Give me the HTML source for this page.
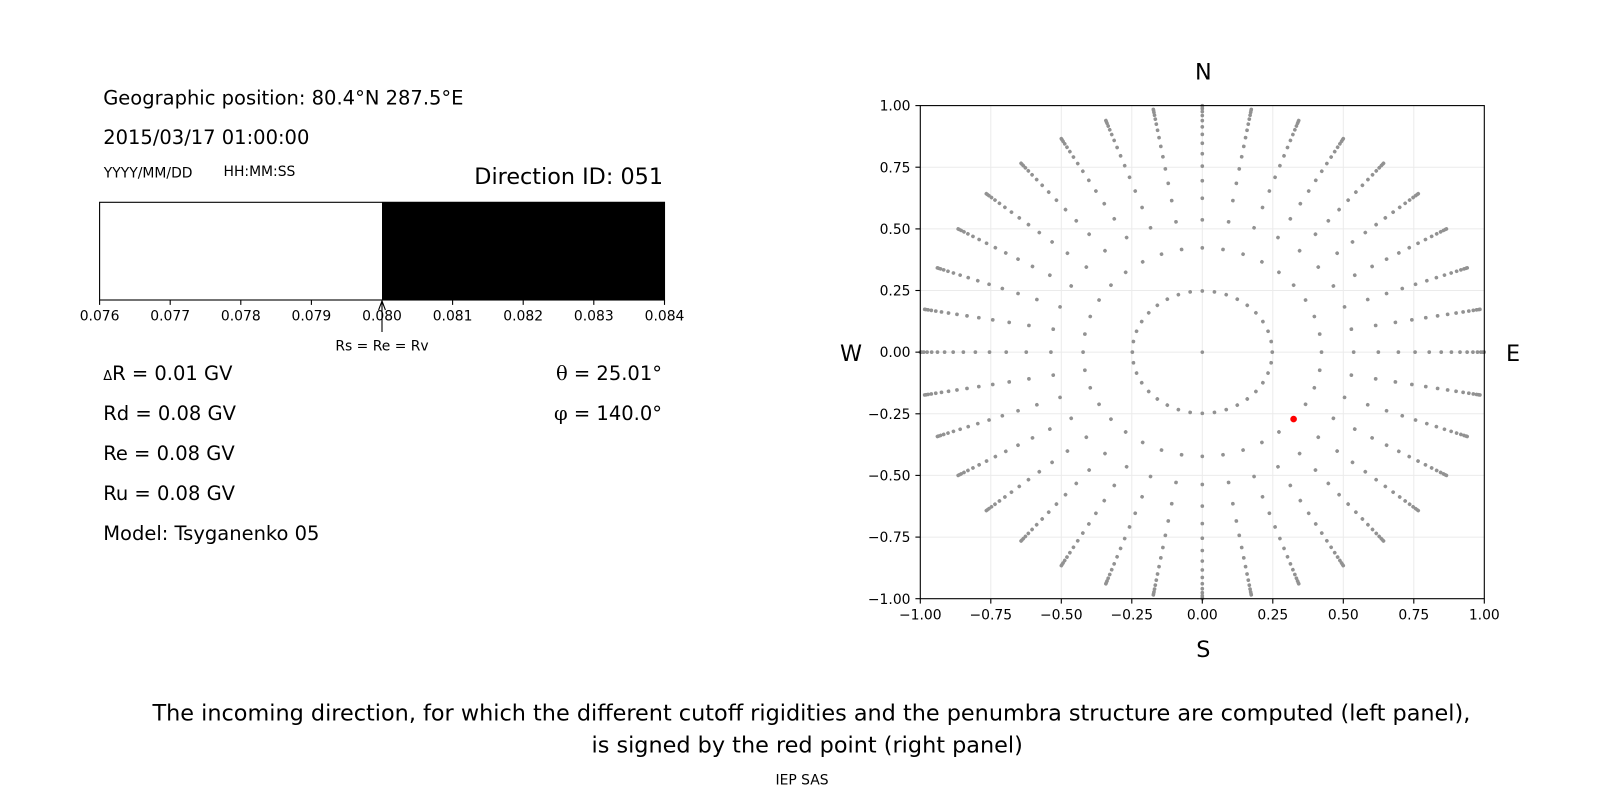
<!DOCTYPE html>
<html>
<head>
<meta charset="utf-8">
<style>
  html,body{margin:0;padding:0;background:#fff;}
  svg{display:block;}
  text{font-family:"DejaVu Sans","Liberation Sans",sans-serif;fill:#000;}
  .serif{font-family:"DejaVu Serif","Liberation Serif",serif;}
</style>
</head>
<body>
<svg width="1600" height="800" viewBox="0 0 1600 800" xmlns="http://www.w3.org/2000/svg">
  <rect x="0" y="0" width="1600" height="800" fill="#fff"/>

  <!-- Left panel texts -->
  <text x="103.2" y="104.3" font-size="19.5">Geographic position: 80.4°N 287.5°E</text>
  <text x="103.2" y="144" font-size="19.5">2015/03/17 01:00:00</text>
  <text x="103.8" y="177.3" font-size="13.9">YYYY/MM/DD</text>
  <text x="223.5" y="176" font-size="13.9">HH:MM:SS</text>
  <text x="663" y="184" font-size="22.3" text-anchor="end">Direction ID: 051</text>

  <!-- Penumbra bar -->
  <rect x="99.6" y="202.3" width="282.4" height="97.7" fill="#fff"/>
  <rect x="382" y="202.3" width="282.5" height="97.7" fill="#000"/>
  <rect x="99.6" y="202.3" width="564.9" height="97.7" fill="none" stroke="#000" stroke-width="1.1"/>
  <g stroke="#000" stroke-width="1.1">
    <line x1="99.6" y1="300" x2="99.6" y2="304.9"/>
    <line x1="170.2" y1="300" x2="170.2" y2="304.9"/>
    <line x1="240.8" y1="300" x2="240.8" y2="304.9"/>
    <line x1="311.4" y1="300" x2="311.4" y2="304.9"/>
    <line x1="382" y1="300" x2="382" y2="304.9"/>
    <line x1="452.6" y1="300" x2="452.6" y2="304.9"/>
    <line x1="523.2" y1="300" x2="523.2" y2="304.9"/>
    <line x1="593.8" y1="300" x2="593.8" y2="304.9"/>
    <line x1="664.5" y1="300" x2="664.5" y2="304.9"/>
  </g>
  <g font-size="13.9" text-anchor="middle">
    <text x="99.6" y="320.5">0.076</text>
    <text x="170.2" y="320.5">0.077</text>
    <text x="240.8" y="320.5">0.078</text>
    <text x="311.4" y="320.5">0.079</text>
    <text x="382" y="320.5">0.080</text>
    <text x="452.6" y="320.5">0.081</text>
    <text x="523.2" y="320.5">0.082</text>
    <text x="593.8" y="320.5">0.083</text>
    <text x="664.5" y="320.5">0.084</text>
  </g>
  <!-- arrow -->
  <g stroke="#000" stroke-width="1.1" fill="none">
    <line x1="382" y1="301" x2="382" y2="332"/>
    <polyline points="378.6,310 382,301 385.4,310"/>
  </g>
  <text x="382" y="350.5" font-size="13.9" text-anchor="middle">Rs = Re = Rv</text>

  <!-- Values -->
  <text x="103.2" y="380" font-size="19.5"><tspan font-size="13">Δ</tspan>R = 0.01 GV</text>
  <text x="103.2" y="420" font-size="19.5">Rd = 0.08 GV</text>
  <text x="103.2" y="460" font-size="19.5">Re = 0.08 GV</text>
  <text x="103.2" y="500" font-size="19.5">Ru = 0.08 GV</text>
  <text x="103.2" y="540" font-size="19.5">Model: Tsyganenko 05</text>
  <text x="662" y="380" font-size="19.5" text-anchor="end"><tspan class="serif">θ</tspan> = 25.01°</text>
  <text x="662" y="420" font-size="19.5" text-anchor="end"><tspan class="serif">φ</tspan> = 140.0°</text>

  <!-- Right panel: grid -->
  <g stroke="#ebebeb" stroke-width="1">
    <line x1="990.8" y1="105.6" x2="990.8" y2="598.7"/>
    <line x1="1061.3" y1="105.6" x2="1061.3" y2="598.7"/>
    <line x1="1131.8" y1="105.6" x2="1131.8" y2="598.7"/>
    <line x1="1202.3" y1="105.6" x2="1202.3" y2="598.7"/>
    <line x1="1272.8" y1="105.6" x2="1272.8" y2="598.7"/>
    <line x1="1343.3" y1="105.6" x2="1343.3" y2="598.7"/>
    <line x1="1413.8" y1="105.6" x2="1413.8" y2="598.7"/>
    <line x1="920.3" y1="167.2" x2="1484.3" y2="167.2"/>
    <line x1="920.3" y1="228.9" x2="1484.3" y2="228.9"/>
    <line x1="920.3" y1="290.5" x2="1484.3" y2="290.5"/>
    <line x1="920.3" y1="352.15" x2="1484.3" y2="352.15"/>
    <line x1="920.3" y1="413.8" x2="1484.3" y2="413.8"/>
    <line x1="920.3" y1="475.4" x2="1484.3" y2="475.4"/>
    <line x1="920.3" y1="537.1" x2="1484.3" y2="537.1"/>
  </g>

  <!-- Points -->
  <defs>
    <path id="ray" d="M0.24804 0h0.0001M0.42274 0h0.0001M0.53674 0h0.0001M0.62422 0h0.0001M0.69527 0h0.0001M0.75454 0h0.0001M0.80465 0h0.0001M0.84722 0h0.0001M0.88333 0h0.0001M0.91376 0h0.0001M0.93906 0h0.0001M0.95964 0h0.0001M0.97578 0h0.0001M0.98772 0h0.0001M0.99560 0h0.0001M0.99951 0h0.0001" fill="none" stroke-linecap="round"/>
  </defs>
  <g stroke="#929292">
    <use href="#ray" transform="matrix(0,-246.55,246.55,0,1202.3,352.15)" stroke-width="0.0149"/>
    <use href="#ray" transform="matrix(48.969,-242.804,242.804,48.969,1202.3,352.15)" stroke-width="0.01486"/>
    <use href="#ray" transform="matrix(96.450,-231.681,231.681,96.450,1202.3,352.15)" stroke-width="0.01466"/>
    <use href="#ray" transform="matrix(141,-213.519,213.519,141,1202.3,352.15)" stroke-width="0.01439"/>
    <use href="#ray" transform="matrix(181.267,-188.870,188.870,181.267,1202.3,352.15)" stroke-width="0.01405"/>
    <use href="#ray" transform="matrix(216.023,-158.479,158.479,216.023,1202.3,352.15)" stroke-width="0.01373"/>
    <use href="#ray" transform="matrix(244.220,-123.275,123.275,244.220,1202.3,352.15)" stroke-width="0.01346"/>
    <use href="#ray" transform="matrix(264.993,-84.325,84.325,264.993,1202.3,352.15)" stroke-width="0.01324"/>
    <use href="#ray" transform="matrix(277.716,-42.813,42.813,277.716,1202.3,352.15)" stroke-width="0.0131"/>
    <use href="#ray" transform="matrix(282,0,0,282,1202.3,352.15)" stroke-width="0.01305"/>
    <use href="#ray" transform="matrix(277.716,42.813,-42.813,277.716,1202.3,352.15)" stroke-width="0.0131"/>
    <use href="#ray" transform="matrix(264.993,84.325,-84.325,264.993,1202.3,352.15)" stroke-width="0.01324"/>
    <use href="#ray" transform="matrix(244.220,123.275,-123.275,244.220,1202.3,352.15)" stroke-width="0.01346"/>
    <use href="#ray" transform="matrix(216.023,158.479,-158.479,216.023,1202.3,352.15)" stroke-width="0.01373"/>
    <use href="#ray" transform="matrix(181.267,188.870,-188.870,181.267,1202.3,352.15)" stroke-width="0.01405"/>
    <use href="#ray" transform="matrix(141,213.519,-213.519,141,1202.3,352.15)" stroke-width="0.01439"/>
    <use href="#ray" transform="matrix(96.450,231.681,-231.681,96.450,1202.3,352.15)" stroke-width="0.01466"/>
    <use href="#ray" transform="matrix(48.969,242.804,-242.804,48.969,1202.3,352.15)" stroke-width="0.01486"/>
    <use href="#ray" transform="matrix(0,246.55,-246.55,0,1202.3,352.15)" stroke-width="0.0149"/>
    <use href="#ray" transform="matrix(-48.969,242.804,-242.804,-48.969,1202.3,352.15)" stroke-width="0.01486"/>
    <use href="#ray" transform="matrix(-96.450,231.681,-231.681,-96.450,1202.3,352.15)" stroke-width="0.01466"/>
    <use href="#ray" transform="matrix(-141,213.519,-213.519,-141,1202.3,352.15)" stroke-width="0.01439"/>
    <use href="#ray" transform="matrix(-181.267,188.870,-188.870,-181.267,1202.3,352.15)" stroke-width="0.01405"/>
    <use href="#ray" transform="matrix(-216.023,158.479,-158.479,-216.023,1202.3,352.15)" stroke-width="0.01373"/>
    <use href="#ray" transform="matrix(-244.220,123.275,-123.275,-244.220,1202.3,352.15)" stroke-width="0.01346"/>
    <use href="#ray" transform="matrix(-264.993,84.325,-84.325,-264.993,1202.3,352.15)" stroke-width="0.01324"/>
    <use href="#ray" transform="matrix(-277.716,42.813,-42.813,-277.716,1202.3,352.15)" stroke-width="0.0131"/>
    <use href="#ray" transform="matrix(-282,0,0,-282,1202.3,352.15)" stroke-width="0.01305"/>
    <use href="#ray" transform="matrix(-277.716,-42.813,42.813,-277.716,1202.3,352.15)" stroke-width="0.0131"/>
    <use href="#ray" transform="matrix(-264.993,-84.325,84.325,-264.993,1202.3,352.15)" stroke-width="0.01324"/>
    <use href="#ray" transform="matrix(-244.220,-123.275,123.275,-244.220,1202.3,352.15)" stroke-width="0.01346"/>
    <use href="#ray" transform="matrix(-216.023,-158.479,158.479,-216.023,1202.3,352.15)" stroke-width="0.01373"/>
    <use href="#ray" transform="matrix(-181.267,-188.870,188.870,-181.267,1202.3,352.15)" stroke-width="0.01405"/>
    <use href="#ray" transform="matrix(-141,-213.519,213.519,-141,1202.3,352.15)" stroke-width="0.01439"/>
    <use href="#ray" transform="matrix(-96.450,-231.681,231.681,-96.450,1202.3,352.15)" stroke-width="0.01466"/>
    <use href="#ray" transform="matrix(-48.969,-242.804,242.804,-48.969,1202.3,352.15)" stroke-width="0.01486"/>
  </g>
  <circle cx="1202.3" cy="352.15" r="1.8" fill="#929292"/>
  <!-- red point -->
  <circle cx="1293.6" cy="419.1" r="3.3" fill="#ff0000"/>

  <!-- Right axes frame -->
  <rect x="920.3" y="105.6" width="564" height="493.1" fill="none" stroke="#000" stroke-width="1.1"/>
  <g stroke="#000" stroke-width="1.1">
    <line x1="920.3" y1="598.7" x2="920.3" y2="603.6"/>
    <line x1="990.8" y1="598.7" x2="990.8" y2="603.6"/>
    <line x1="1061.3" y1="598.7" x2="1061.3" y2="603.6"/>
    <line x1="1131.8" y1="598.7" x2="1131.8" y2="603.6"/>
    <line x1="1202.3" y1="598.7" x2="1202.3" y2="603.6"/>
    <line x1="1272.8" y1="598.7" x2="1272.8" y2="603.6"/>
    <line x1="1343.3" y1="598.7" x2="1343.3" y2="603.6"/>
    <line x1="1413.8" y1="598.7" x2="1413.8" y2="603.6"/>
    <line x1="1484.3" y1="598.7" x2="1484.3" y2="603.6"/>
    <line x1="915.4" y1="105.6" x2="920.3" y2="105.6"/>
    <line x1="915.4" y1="167.2" x2="920.3" y2="167.2"/>
    <line x1="915.4" y1="228.9" x2="920.3" y2="228.9"/>
    <line x1="915.4" y1="290.5" x2="920.3" y2="290.5"/>
    <line x1="915.4" y1="352.15" x2="920.3" y2="352.15"/>
    <line x1="915.4" y1="413.8" x2="920.3" y2="413.8"/>
    <line x1="915.4" y1="475.4" x2="920.3" y2="475.4"/>
    <line x1="915.4" y1="537.1" x2="920.3" y2="537.1"/>
    <line x1="915.4" y1="598.7" x2="920.3" y2="598.7"/>
  </g>
  <g font-size="13.9" text-anchor="middle">
    <text x="920.3" y="619.3">−1.00</text>
    <text x="990.8" y="619.3">−0.75</text>
    <text x="1061.3" y="619.3">−0.50</text>
    <text x="1131.8" y="619.3">−0.25</text>
    <text x="1202.3" y="619.3">0.00</text>
    <text x="1272.8" y="619.3">0.25</text>
    <text x="1343.3" y="619.3">0.50</text>
    <text x="1413.8" y="619.3">0.75</text>
    <text x="1484.3" y="619.3">1.00</text>
  </g>
  <g font-size="13.9" text-anchor="end">
    <text x="910.5" y="110.7">1.00</text>
    <text x="910.5" y="172.3">0.75</text>
    <text x="910.5" y="234">0.50</text>
    <text x="910.5" y="295.6">0.25</text>
    <text x="910.5" y="357.2">0.00</text>
    <text x="910.5" y="418.9">−0.25</text>
    <text x="910.5" y="480.5">−0.50</text>
    <text x="910.5" y="542.2">−0.75</text>
    <text x="910.5" y="603.8">−1.00</text>
  </g>
  <g font-size="22.3" text-anchor="middle">
    <text x="1203.3" y="79.5">N</text>
    <text x="1203.3" y="657">S</text>
    <text x="851" y="361">W</text>
    <text x="1513" y="361">E</text>
  </g>

  <!-- Caption -->
  <text x="152.5" y="720.7" font-size="22.35">The incoming direction, for which the different cutoff rigidities and the penumbra structure are computed (left panel),</text>
  <text x="591.5" y="752.7" font-size="22.35">is signed by the red point (right panel)</text>
  <text x="802" y="784.5" font-size="13.9" text-anchor="middle">IEP SAS</text>
</svg>
</body>
</html>
